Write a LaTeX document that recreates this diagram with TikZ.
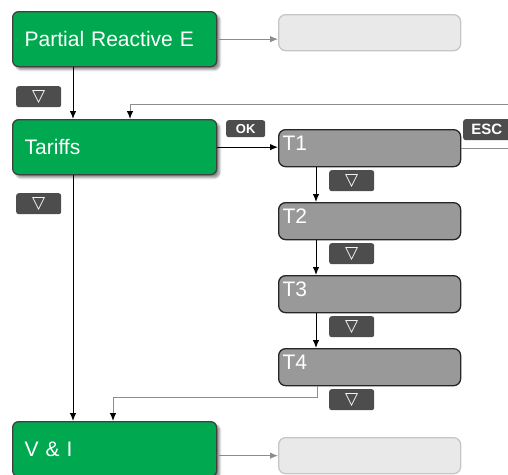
\documentclass[tikz,border=0pt]{standalone}
\usepackage{fontspec}
\setmainfont{Liberation Sans}
\newfontfamily\symfont{DejaVu Sans}
\usepackage{tikz}
\usetikzlibrary{arrows.meta}
\usetikzlibrary{shadows.blur}
\usepackage{xcolor}
\definecolor{menugreen}{HTML}{00A94F}
\definecolor{stepgray}{HTML}{999999}
\definecolor{blankfill}{HTML}{E9E9E9}
\definecolor{blankline}{HTML}{C6C6C6}
\definecolor{keyfill}{HTML}{4D4D4D}
\definecolor{linkgray}{HTML}{8C8C8C}
\tikzset{>={Latex[length=8pt,width=6.5pt]}}
\newcommand{\downkey}{{\symfont\bfseries\fontsize{17}{17}\selectfont ▽}}

\begin{document}
\begin{tikzpicture}[x=1pt, y=-1pt]
                % pre = Partial Reactive E, tar = Tariffs, vi = V & I, t1..t4 = tariff steps
                \tikzstyle{menu}=[rectangle, rounded corners=6pt, draw=black!75, line width=1.3pt,
                  fill=menugreen, text=white, font=\fontsize{21}{24}\selectfont,
                  minimum height=55pt, text width=180pt, inner xsep=12pt, align=left,
                  anchor=north west,
                  blur shadow={shadow xshift=3pt, shadow yshift=-3pt, shadow blur steps=6, shadow opacity=45}]
                \tikzstyle{tstep}=[rectangle, rounded corners=7pt, draw=black!85, line width=1.3pt,
                  fill=stepgray, text=white, font=\fontsize{21}{24}\selectfont,
                  minimum height=37pt, text width=174pt, inner xsep=4pt, align=left,
                  anchor=north west]
                \tikzstyle{blank}=[rectangle, rounded corners=7pt, draw=blankline, line width=1.3pt,
                  fill=blankfill, minimum width=182pt, minimum height=36pt, anchor=north west]
                \tikzstyle{key}=[rectangle, rounded corners=2.5pt, fill=keyfill, text=white,
                  minimum width=45pt, minimum height=21pt, inner sep=0pt, anchor=north west,
                  font=\fontsize{13}{14}\selectfont\bfseries]
                \tikzstyle{link}=[draw=linkgray, line width=1pt, -{Latex[length=8pt,width=6.5pt,color=linkgray]}]
                \tikzstyle{back}=[draw=linkgray, line width=1pt, -{Latex[length=8pt,width=6.5pt,color=black]}]
                \tikzstyle{down}=[draw=black, line width=1pt, ->]
                \useasboundingbox (0,0) rectangle (508,474);
                \clip (0,0) rectangle (508,474);
                \node[menu] (pre) at (12,11) {Partial Reactive E};
                \node[blank] (pre-out) at (278,14) {};
                \node[key] (k1) at (16,86) {\downkey};
                \node[menu] (tar) at (12,119) {Tariffs};
                \node[key] (k2) at (16,193) {\downkey};
                \node[key, minimum width=39pt, minimum height=17pt] (ok) at (226,120) {OK};
                \node[key, minimum width=47pt, font=\fontsize{15}{16}\selectfont\bfseries] (esc) at (463,119) {ESC};
                \foreach \i [evaluate=\i as \ty using {129+73*(\i-1)}] in {1,...,4} {
                  \node[tstep, text depth=9pt] (t\i) at (278,\ty) {T\i};
                  \node[key] (tk\i) at (329,\ty+41) {\downkey};
                }
                \node[menu] (vi) at (12,421) {V \& I};
                \node[blank] (vi-out) at (278,437) {};
                \coordinate (esc-in) at (510,104);
                \coordinate (esc-out) at (510,148);
                \draw[link] (pre.east) -- (pre.east -| pre-out.west);
                \draw[down] ([xshift=61pt]pre.south west) -- ([xshift=61pt]tar.north west);
                \draw[back] (esc-in) -| ([xshift=118pt]tar.north west);
                \draw[down] (tar.east) -- (tar.east -| t1.west);
                \draw[draw=linkgray, line width=1pt] (t1.east) -- (t1.east -| esc-out);
                \foreach \i [count=\j from 2] in {1,2,3}
                  \draw[down] ([xshift=38pt]t\i.south west) -- ([xshift=38pt]t\j.north west);
                \draw[down] ([xshift=61pt]tar.south west) -- ([xshift=61pt]vi.north west);
                \draw[back] ([xshift=39pt]t4.south west) -- ++(0,11) -| ([xshift=101pt]vi.north west);
                \draw[link] (vi.east |- vi-out.west) -- (vi-out.west);
        \end{tikzpicture}
\end{document}
